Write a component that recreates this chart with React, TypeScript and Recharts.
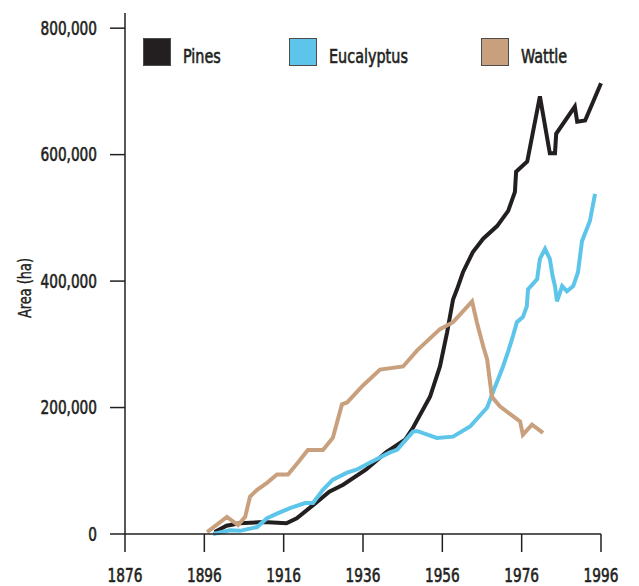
import { LineChart, Line, XAxis, YAxis } from "recharts";

const FONT =
  '"Liberation Sans Narrow", "DejaVu Sans Condensed", "Roboto Condensed", Roboto, sans-serif';
const INK = "#231f20";

const xTicks = [1876, 1896, 1916, 1936, 1956, 1976, 1996];
const yTicks = [0, 200000, 400000, 600000, 800000];

const pinesYear = [
  1898.6, 1901.6, 1904.9, 1910.9, 1916.7, 1919.3, 1923.5, 1927.5, 1931, 1936.8,
  1941.8, 1946.6, 1948.6, 1952.9, 1955.4, 1957.2, 1958.7, 1959.7, 1961.2, 1963.7,
  1966.3, 1969.8, 1972.6, 1974.3, 1974.6, 1977.4, 1980.6, 1983.1, 1984.4, 1984.7,
  1989.4, 1990, 1992, 1996,
];
const pinesArea = [
  3000, 13000, 17000, 19000, 17000, 25000, 46000, 67000, 78000, 102000,
  129000, 149000, 168000, 217000, 265000, 319000, 371000, 387000, 414000, 446000,
  467000, 487000, 511000, 541000, 573000, 589000, 692000, 602000, 602000, 633000,
  676000, 652000, 654000, 713000,
];

const eucYear = [
  1898.2, 1902.5, 1905, 1909.3, 1911.8, 1914.6, 1917.6, 1921.4, 1923.4, 1925.9,
  1928.4, 1932, 1934.5, 1937.8, 1942.8, 1944.6, 1948.6, 1949.6, 1954.6, 1958.7,
  1963, 1967.3, 1968.8, 1970, 1971.3, 1972.6, 1973.8, 1974.8, 1976.3, 1977.3,
  1977.6, 1979.9, 1980.6, 1981.9, 1983.1, 1983.8, 1984.4, 1984.9, 1986.2, 1987.4,
  1989, 1990.2, 1991.2, 1993.2, 1994.5,
];
const eucArea = [
  0, 6000, 5000, 11000, 25000, 33000, 41000, 49000, 49000, 70000,
  86000, 97000, 102000, 113000, 129000, 133000, 162000, 163000, 152000, 154000,
  170000, 200000, 225000, 244000, 265000, 289000, 313000, 335000, 343000, 360000,
  387000, 403000, 435000, 451000, 435000, 408000, 392000, 368000, 392000, 384000,
  392000, 414000, 463000, 495000, 538000,
];

const wattleYear = [
  1896.7, 1901.7, 1904.5, 1906.3, 1907.5, 1909.3, 1911.8, 1914.3, 1917.1, 1919.6,
  1922.1, 1925.9, 1928.4, 1930.7, 1932, 1936, 1940.3, 1946.1, 1949.6, 1955.4,
  1958.7, 1963.5, 1964.7, 1966.3, 1967.3, 1968.5, 1970.5, 1975.6, 1976.3, 1978.6,
  1981.4,
];
const wattleArea = [
  3000, 27000, 14000, 27000, 59000, 70000, 81000, 94000, 94000, 113000,
  133000, 133000, 152000, 205000, 208000, 235000, 260000, 265000, 290000, 324000,
  335000, 368000, 335000, 297000, 276000, 217000, 202000, 178000, 157000, 173000,
  160000,
];

const toPoints = (years: number[], areas: number[]) =>
  years.map((year, i) => ({ year, area: areas[i] }));

const series = [
  { name: "Pines", color: INK, data: toPoints(pinesYear, pinesArea) },
  { name: "Eucalyptus", color: "#5dc4ea", data: toPoints(eucYear, eucArea) },
  { name: "Wattle", color: "#c9a07e", data: toPoints(wattleYear, wattleArea) },
];

// legend item widths so the boxes land where the original puts them
const legendWidths = [146, 192, 120];

// the original uses a narrow grotesque; squeeze DejaVu Condensed to match
const SQUEEZE = 0.8;

function CondensedTick(props: any) {
  const { x, y, payload, textAnchor, dy, fmt } = props;
  return (
    <g transform={`translate(${x},${y}) scale(${SQUEEZE},1)`}>
      <text
        x={0}
        y={0}
        dy={dy}
        textAnchor={textAnchor}
        fontSize={19}
        fontFamily={FONT}
        fill={INK}
        stroke={INK}
        strokeWidth={0.6}
      >
        {fmt ? fmt(payload.value) : payload.value}
      </text>
    </g>
  );
}

function AxisTitle() {
  return (
    <g transform={`translate(25,288) rotate(-90) scale(${SQUEEZE},1)`}>
      <text
        x={0}
        y={0}
        textAnchor="middle"
        dominantBaseline="central"
        fontSize={18}
        fontFamily={FONT}
        fill={INK}
        stroke={INK}
        strokeWidth={0.4}
      >
        Area (ha)
      </text>
    </g>
  );
}

const fmtThousands = (v: number) => v.toLocaleString("en-US");

export default function App() {
  const axisStyle = { stroke: INK, strokeWidth: 1.5 };

  return (
    <div
      style={{
        position: "absolute",
        left: 0,
        top: 0,
        width: 639,
        height: 586,
        background: "#fff",
        fontFamily: FONT,
      }}
    >
      <LineChart width={639} height={586} margin={{ top: 13, right: 38, bottom: 0, left: 0 }}>
        <XAxis
          type="number"
          dataKey="year"
          domain={[1876, 1996]}
          ticks={xTicks}
          interval={0}
          height={52}
          tickSize={18}
          tickMargin={16}
          axisLine={axisStyle}
          tickLine={axisStyle}
          tick={<CondensedTick dy="0.72em" />}
        />
        <YAxis
          type="number"
          domain={[0, 824000]}
          ticks={yTicks}
          interval={0}
          width={125}
          tickSize={15}
          tickMargin={13}
          axisLine={axisStyle}
          tickLine={axisStyle}
          tick={<CondensedTick dy="0.36em" fmt={fmtThousands} />}
          label={<AxisTitle />}
        />
        {series.map((s) => (
          <Line
            key={s.name}
            data={s.data}
            dataKey="area"
            type="linear"
            stroke={s.color}
            strokeWidth={4}
            dot={false}
            activeDot={false}
            isAnimationActive={false}
          />
        ))}
      </LineChart>
      <div style={{ position: "absolute", left: 143, top: 38, display: "flex" }}>
        {series.map((s, i) => (
          <div
            key={s.name}
            style={{ width: legendWidths[i], display: "flex", alignItems: "flex-end" }}
          >
            <div
              style={{
                width: 28,
                height: 28,
                boxSizing: "border-box",
                background: s.color,
                border: "1px solid #4d4d4d",
              }}
            />
            <span
              style={{
                marginLeft: 12,
                fontSize: 20,
                lineHeight: "20px",
                color: INK,
                WebkitTextStroke: `0.6px ${INK}`,
                display: "inline-block",
                transform: `scaleX(${SQUEEZE})`,
                transformOrigin: "left bottom",
              }}
            >
              {s.name}
            </span>
          </div>
        ))}
      </div>
    </div>
  );
}
